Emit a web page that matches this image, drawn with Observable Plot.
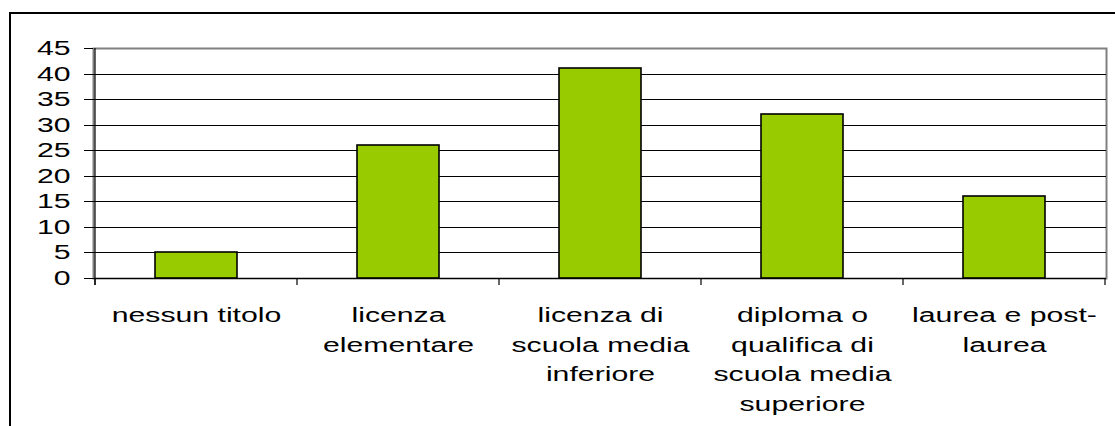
<!DOCTYPE html>
<html>
<head>
<meta charset="utf-8">
<script src="https://cdn.jsdelivr.net/npm/d3@7"></script>
<script src="https://cdn.jsdelivr.net/npm/@observablehq/plot@0.6"></script>
<style>
  html, body { margin: 0; padding: 0; background: #fff; overflow: hidden; }
  #wrap { position: relative; width: 1115px; height: 426px; }
  #frame { position: absolute; left: 9px; top: 12px; width: 1200px; height: 500px;
           border-left: 2px solid #000; border-top: 2px solid #000; pointer-events: none; }
</style>
</head>
<body>
<div id="wrap"><div id="frame"></div></div>
<script>
const categories = ["nessun titolo", "licenza elementare", "licenza di scuola media inferiore",
  "diploma o qualifica di scuola media superiore", "laurea e post-laurea"];
const tickLabels = ["nessun titolo", "licenza\nelementare", "licenza di\nscuola media\ninferiore",
  "diploma o\nqualifica di\nscuola media\nsuperiore", "laurea e post-\nlaurea"];
const values = [5, 26, 41, 32, 16];
const yTicks = [0, 5, 10, 15, 20, 25, 30, 35, 40, 45];
const gridTicks = [5, 10, 15, 20, 25, 30, 35, 40];

const data = categories.map((c, i) => ({category: c, value: values[i]}));
const labelOf = new Map(categories.map((c, i) => [c, tickLabels[i]]));

const plot = Plot.plot({
  width: 1115,
  height: 426,
  marginTop: 48,
  marginLeft: 93,
  marginRight: 9,
  marginBottom: 148,
  style: {background: "transparent", fontFamily: "'Liberation Sans', Arial, sans-serif", color: "#000"},
  x: {type: "band", domain: categories, paddingInner: 0.595, paddingOuter: 0.2975, label: null},
  y: {domain: [0, 45], label: null, round: true},
  marks: [
    Plot.frame({stroke: "#808080", strokeWidth: 2}),
    Plot.gridY(gridTicks, {stroke: "#000", strokeOpacity: 1, strokeWidth: 1}),
    Plot.barY(data, {x: "category", y: "value", fill: "#99CC00", stroke: "#000", strokeWidth: 1.6}),
    Plot.ruleY([0], {stroke: "#000", strokeWidth: 1.2}),
    Plot.axisY(yTicks, {tickSize: 9, tickPadding: 14, fontSize: 21, stroke: "#000", label: null}),
    Plot.axisX({tickSize: 0, tickPadding: 23, fontSize: 21, lineHeight: 1.4,
      tickFormat: (d) => labelOf.get(d), label: null})
  ]
});

document.getElementById("wrap").prepend(plot);

// Horizontally stretched lettering, as in the reference
d3.select(plot).selectAll("text").each(function () {
  const t = this.getAttribute("transform") || "";
  this.setAttribute("transform", t + " scale(1.44,1)");
});

// Left axis line and category boundary ticks, from the Plot scales
const sx = plot.scale("x");
const sy = plot.scale("y");
const y0 = sy.apply(0), yTop = sy.apply(45);
const pad = (sx.step - sx.bandwidth) / 2;
const bounds = categories.map((c) => sx.apply(c) - pad);
bounds.push(sx.apply(categories[categories.length - 1]) + sx.bandwidth + pad);
const g = d3.select(plot).append("g").attr("stroke", "#000");
g.append("line").attr("x1", bounds[0]).attr("x2", bounds[0]).attr("y1", yTop).attr("y2", y0 + 7).attr("stroke-width", 1.2);
g.selectAll("line.tk").data(bounds).join("line").attr("class", "tk")
  .attr("x1", (d) => d).attr("x2", (d) => d).attr("y1", y0).attr("y2", y0 + 7).attr("stroke-width", 1.2);
</script>
</body>
</html>
